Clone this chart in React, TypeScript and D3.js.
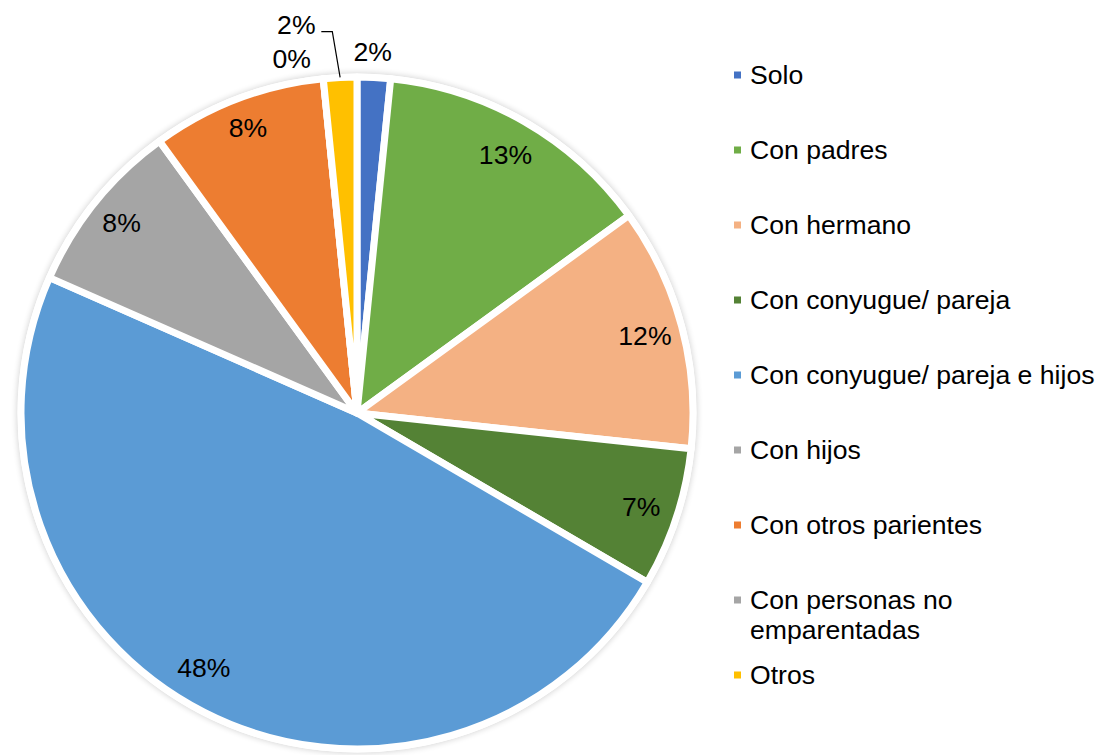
import React from 'react';
import * as d3 from 'd3';

const categories = [
  'Solo',
  'Con padres',
  'Con hermano',
  'Con conyugue/ pareja',
  'Con conyugue/ pareja e hijos',
  'Con hijos',
  'Con otros parientes',
  'Con personas no emparentadas',
  'Otros',
];
const values = [1.6, 13.4, 11.7, 6.7, 48.2, 8.4, 8.4, 0, 1.6];
const colors = ['#4472C4', '#70AD47', '#F4B183', '#548235', '#5B9BD5', '#A5A5A5', '#ED7D31', '#A5A5A5', '#FFC000'];
// legend lines (wrapped like the original)
const legendLines = [
  ['Solo'],
  ['Con padres'],
  ['Con hermano'],
  ['Con conyugue/ pareja'],
  ['Con conyugue/ pareja e hijos'],
  ['Con hijos'],
  ['Con otros parientes'],
  ['Con personas no', 'emparentadas'],
  ['Otros'],
];

// label placement: radius factor and angle shift (deg) from slice middle
const labelRadius = [1.075, 0.887, 0.887, 0.89, 0.885, 0.9, 0.91, 1.072, 1.17];
const labelShift = [-0.4, 0, 0, 0, 4, 0, 0, -4.7, -6];
const leader = [false, false, false, false, false, false, false, false, true];

function App() {
  const width = 1100;
  const height = 755;
  const cx = 357;
  const cy = 413;
  const R = 336;
  const font = '"Liberation Sans", Arial, sans-serif';
  const fontSize = 26.6;

  const pie = d3.pie<number>().sort(null).value((d) => d)(values);
  const arc = d3.arc<d3.PieArcDatum<number>>().innerRadius(0).outerRadius(R);

  const polar = (angle: number, r: number): [number, number] => [
    cx + r * Math.sin(angle),
    cy - r * Math.cos(angle),
  ];

  const legendY = d3.scaleLinear().domain([0, 1]).range([75, 150]);

  return (
    <svg width={width} height={height} style={{ position: 'absolute', left: 0, top: 0 }}>
      <defs>
        <filter id="glow" x="-10%" y="-10%" width="120%" height="120%">
          <feGaussianBlur stdDeviation="3" />
        </filter>
      </defs>
      <rect width={width} height={height} fill="#fff" />
      <circle cx={cx} cy={cy} r={R + 4} fill="#000" opacity={0.18} filter="url(#glow)" />
      <circle cx={cx} cy={cy} r={R + 3.5} fill="#fff" />
      <g transform={`translate(${cx},${cy})`}>
        {pie.map((p, i) => (
          <path key={i} d={arc(p) || ''} fill={colors[i]} stroke="#fff" strokeWidth={7} strokeLinejoin="round" />
        ))}
      </g>
      {pie.map((p, i) => {
        const mid = (p.startAngle + p.endAngle) / 2;
        const a = mid + (labelShift[i] * Math.PI) / 180;
        const [x, y] = polar(a, R * labelRadius[i]);
        const label = `${d3.format('.0f')(values[i])}%`;
        let line = null;
        if (leader[i]) {
          const [ex, ey] = polar(mid, R);
          const sx = x + 25;
          const sy = y + 7;
          line = (
            <polyline
              points={`${sx},${sy} ${sx + 11},${sy} ${ex},${ey}`}
              fill="none"
              stroke="#000"
              strokeWidth={1.2}
            />
          );
        }
        return (
          <g key={i}>
            {line}
            <text x={x} y={y} dy="0.35em" textAnchor="middle" fontFamily={font} fontSize={fontSize} fill="#000">
              {label}
            </text>
          </g>
        );
      })}
      {categories.map((c, i) => (
        <g key={c}>
          <rect x={734} y={legendY(i) - 3.5} width={7} height={7} fill={colors[i]} />
          <text x={750} y={legendY(i)} fontFamily={font} fontSize={fontSize} fill="#000">
            {legendLines[i].map((t, j) => (
              <tspan key={j} x={750} dy={j === 0 ? '0.35em' : 30}>
                {t}
              </tspan>
            ))}
          </text>
        </g>
      ))}
    </svg>
  );
}

export default App;
